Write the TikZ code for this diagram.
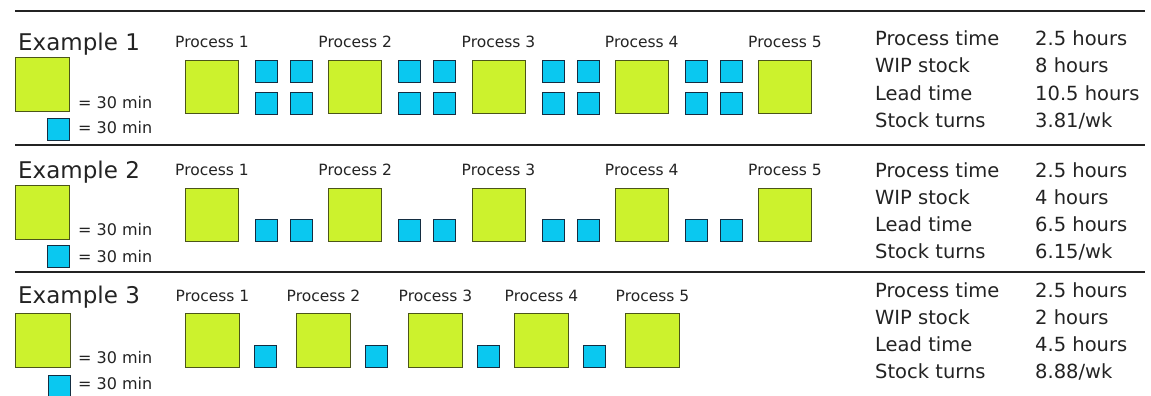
\documentclass[tikz,border=0pt]{standalone}
\usepackage{fontspec}
\setmainfont{DejaVu Sans}
\usetikzlibrary{positioning}

\definecolor{procgreen}{RGB}{204,242,45}
\definecolor{procedge}{RGB}{75,85,25}
\definecolor{wipblue}{RGB}{10,200,240}
\definecolor{wipedge}{RGB}{20,45,65}
\definecolor{inkgrey}{RGB}{35,35,35}

\tikzset{
  proc/.style={draw=procedge, fill=procgreen, line width=1pt, minimum width=53pt, minimum height=53pt, inner sep=0pt, anchor=north west},
  wip/.style={draw=wipedge, fill=wipblue, line width=1.2pt, minimum size=22pt, inner sep=0pt, anchor=north west},
  extitle/.style={font=\fontsize{23}{23}\selectfont, text=inkgrey, inner sep=0pt, anchor=base west},
  proclabel/.style={font=\fontsize{15.5}{15.5}\selectfont, text=inkgrey, inner sep=0pt},
  keytext/.style={font=\fontsize{16}{16}\selectfont, text=inkgrey, inner sep=0pt, anchor=base west},
  stat/.style={font=\fontsize{19.5}{19.5}\selectfont, text=inkgrey, inner sep=0pt, anchor=base west},
  rowrule/.style={draw=inkgrey, line width=1.6pt}
}

\begin{document}
\begin{tikzpicture}[x=1pt, y=1pt]

\newcommand\COLP{143.25}
\newcommand\STATA{875}
\newcommand\STATB{1035}

\useasboundingbox (0,0) rectangle (1151,-396);

%% rules
\draw[rowrule] (15,-11) -- (1145,-11);
\draw[rowrule] (15,-145) -- (1145,-145);
\draw[rowrule] (15,-272) -- (1145,-272);

%% Example 1
\node[extitle] (ex1) at (18,-51) {Example 1};
\node[proc, minimum width=54pt, minimum height=54pt] (key1p) at (15,-57) {};
\node[wip] (key1w) at (47,-118) {};
\node[keytext] (key1pt) at (78,-108) {= 30 min};
\node[keytext] (key1wt) at (78,-133) {= 30 min};

\node[proc] (r1p1) at (185+0*\COLP, -60) {};
\node[proc] (r1p2) at (185+1*\COLP, -60) {};
\node[proc] (r1p3) at (185+2*\COLP, -60) {};
\node[proc] (r1p4) at (185+3*\COLP, -60) {};
\node[proc] (r1p5) at (185+4*\COLP, -60) {};

\node[proclabel, above=12pt of r1p1] (r1l1) {Process 1};
\node[proclabel, above=12pt of r1p2] (r1l2) {Process 2};
\node[proclabel, above=12pt of r1p3] (r1l3) {Process 3};
\node[proclabel, above=12pt of r1p4] (r1l4) {Process 4};
\node[proclabel, above=12pt of r1p5] (r1l5) {Process 5};

\node[wip] (r1w1a) at (255+0*\COLP, -60) {};
\node[wip] (r1w1b) at (290+0*\COLP, -60) {};
\node[wip] (r1w1c) at (255+0*\COLP, -92) {};
\node[wip] (r1w1d) at (290+0*\COLP, -92) {};
\node[wip] (r1w2a) at (255+1*\COLP, -60) {};
\node[wip] (r1w2b) at (290+1*\COLP, -60) {};
\node[wip] (r1w2c) at (255+1*\COLP, -92) {};
\node[wip] (r1w2d) at (290+1*\COLP, -92) {};
\node[wip] (r1w3a) at (255+2*\COLP, -60) {};
\node[wip] (r1w3b) at (290+2*\COLP, -60) {};
\node[wip] (r1w3c) at (255+2*\COLP, -92) {};
\node[wip] (r1w3d) at (290+2*\COLP, -92) {};
\node[wip] (r1w4a) at (255+3*\COLP, -60) {};
\node[wip] (r1w4b) at (290+3*\COLP, -60) {};
\node[wip] (r1w4c) at (255+3*\COLP, -92) {};
\node[wip] (r1w4d) at (290+3*\COLP, -92) {};

\node[stat] (r1s1) at (\STATA,-46) {Process time};
\node[stat] (r1s2) at (\STATA,-73) {WIP stock};
\node[stat] (r1s3) at (\STATA,-100) {Lead time};
\node[stat] (r1s4) at (\STATA,-127) {Stock turns};
\node[stat] (r1v1) at (\STATB,-46) {2.5 hours};
\node[stat] (r1v2) at (\STATB,-73) {8 hours};
\node[stat] (r1v3) at (\STATB,-100) {10.5 hours};
\node[stat] (r1v4) at (\STATB,-127) {3.81/wk};

%% Example 2
\node[extitle] (ex2) at (18,-178) {Example 2};
\node[proc, minimum width=54pt, minimum height=54pt] (key2p) at (15,-185) {};
\node[wip] (key2w) at (47,-245) {};
\node[keytext] (key2pt) at (78,-235) {= 30 min};
\node[keytext] (key2wt) at (78,-262) {= 30 min};

\node[proc] (r2p1) at (185+0*\COLP, -188) {};
\node[proc] (r2p2) at (185+1*\COLP, -188) {};
\node[proc] (r2p3) at (185+2*\COLP, -188) {};
\node[proc] (r2p4) at (185+3*\COLP, -188) {};
\node[proc] (r2p5) at (185+4*\COLP, -188) {};

\node[proclabel, above=12pt of r2p1] (r2l1) {Process 1};
\node[proclabel, above=12pt of r2p2] (r2l2) {Process 2};
\node[proclabel, above=12pt of r2p3] (r2l3) {Process 3};
\node[proclabel, above=12pt of r2p4] (r2l4) {Process 4};
\node[proclabel, above=12pt of r2p5] (r2l5) {Process 5};

\node[wip] (r2w1a) at (255+0*\COLP, -219) {};
\node[wip] (r2w1b) at (290+0*\COLP, -219) {};
\node[wip] (r2w2a) at (255+1*\COLP, -219) {};
\node[wip] (r2w2b) at (290+1*\COLP, -219) {};
\node[wip] (r2w3a) at (255+2*\COLP, -219) {};
\node[wip] (r2w3b) at (290+2*\COLP, -219) {};
\node[wip] (r2w4a) at (255+3*\COLP, -219) {};
\node[wip] (r2w4b) at (290+3*\COLP, -219) {};

\node[stat] (r2s1) at (\STATA,-177) {Process time};
\node[stat] (r2s2) at (\STATA,-204) {WIP stock};
\node[stat] (r2s3) at (\STATA,-231) {Lead time};
\node[stat] (r2s4) at (\STATA,-258) {Stock turns};
\node[stat] (r2v1) at (\STATB,-177) {2.5 hours};
\node[stat] (r2v2) at (\STATB,-204) {4 hours};
\node[stat] (r2v3) at (\STATB,-231) {6.5 hours};
\node[stat] (r2v4) at (\STATB,-258) {6.15/wk};

%% Example 3
\node[extitle] (ex3) at (18,-303) {Example 3};
\node[proc, minimum width=55pt, minimum height=54pt] (key3p) at (15,-313) {};
\node[wip] (key3w) at (48,-375) {};
\node[keytext] (key3pt) at (78,-363) {= 30 min};
\node[keytext] (key3wt) at (78,-389) {= 30 min};

\node[proc, minimum width=54pt, minimum height=54pt] (r3p1) at (185,-313) {};
\node[proc, minimum width=54pt, minimum height=54pt] (r3p2) at (296,-313) {};
\node[proc, minimum width=54pt, minimum height=54pt] (r3p3) at (408,-313) {};
\node[proc, minimum width=54pt, minimum height=54pt] (r3p4) at (514,-313) {};
\node[proc, minimum width=54pt, minimum height=54pt] (r3p5) at (625,-313) {};

\node[proclabel, above=11pt of r3p1] (r3l1) {Process 1};
\node[proclabel, above=11pt of r3p2] (r3l2) {Process 2};
\node[proclabel, above=11pt of r3p3] (r3l3) {Process 3};
\node[proclabel, above=11pt of r3p4] (r3l4) {Process 4};
\node[proclabel, above=11pt of r3p5] (r3l5) {Process 5};

\node[wip] (r3w1) at (254,-345) {};
\node[wip] (r3w2) at (365,-345) {};
\node[wip] (r3w3) at (477,-345) {};
\node[wip] (r3w4) at (583,-345) {};

\node[stat] (r3s1) at (\STATA,-297) {Process time};
\node[stat] (r3s2) at (\STATA,-324) {WIP stock};
\node[stat] (r3s3) at (\STATA,-351) {Lead time};
\node[stat] (r3s4) at (\STATA,-378) {Stock turns};
\node[stat] (r3v1) at (\STATB,-297) {2.5 hours};
\node[stat] (r3v2) at (\STATB,-324) {2 hours};
\node[stat] (r3v3) at (\STATB,-351) {4.5 hours};
\node[stat] (r3v4) at (\STATB,-378) {8.88/wk};

\end{tikzpicture}
\end{document}
